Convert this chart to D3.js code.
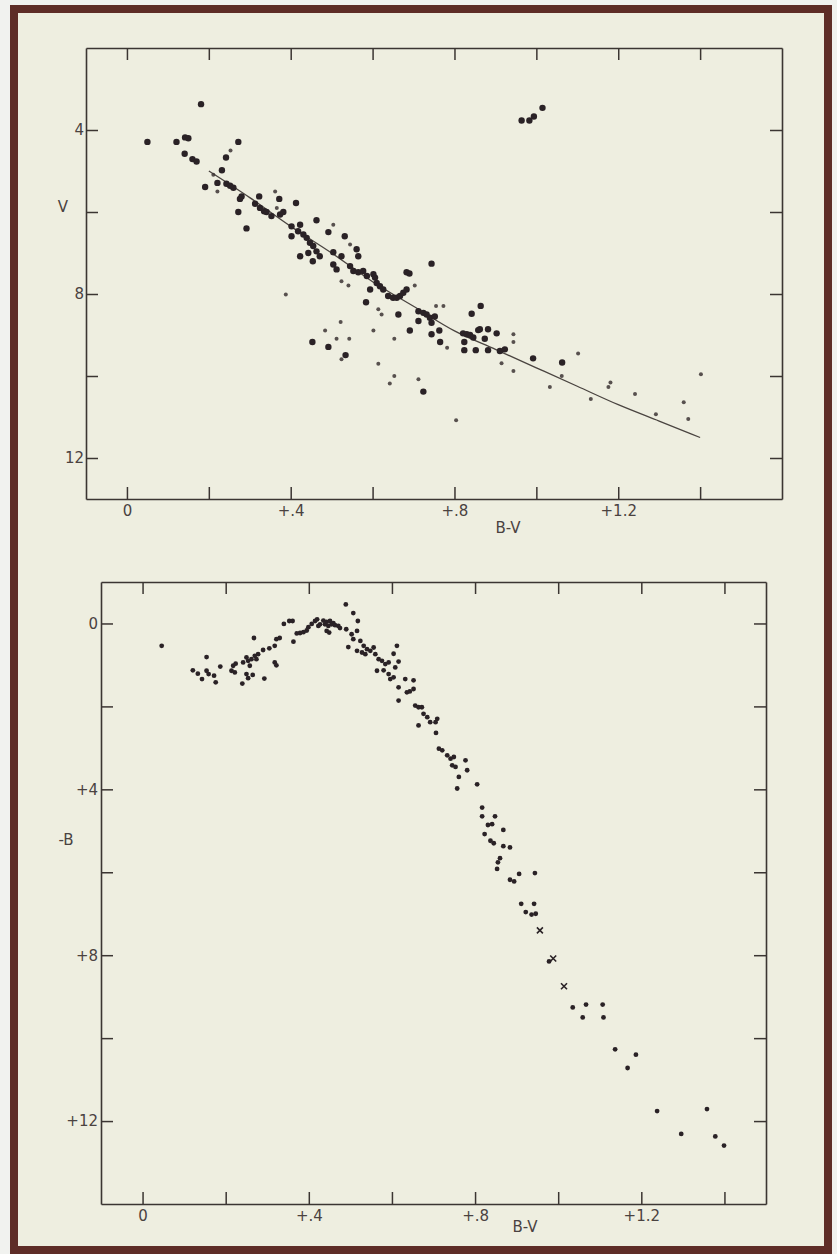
<!DOCTYPE html>
<html>
<head>
<meta charset="utf-8">
<script src="https://cdn.jsdelivr.net/npm/d3@7"></script>
<style>
  html, body { margin: 0; padding: 0; background: #f1f2ef; }
  svg { display: block; }
  text { font-family: "DejaVu Sans", "Liberation Sans", sans-serif; }
</style>
</head>
<body>
<svg id="chart" width="837" height="1254"></svg>
<script>
// ---------- DATA ----------
// Top panel: V vs B-V (large dots)
const topLargeBV = [0.181,0.05,0.121,0.142,0.150,0.141,0.160,0.170,0.272,0.242,0.232,0.191,0.221,0.243,0.252,0.260,0.280,0.276,0.272,0.292,
  0.323,0.313,0.325,0.335,0.341,0.372,0.353,0.374,0.382,0.413,0.402,0.423,0.418,0.431,0.439,0.447,0.455,0.402,0.463,0.423,
  0.454,0.443,0.463,0.471,0.492,0.532,0.565,0.504,0.524,0.512,0.504,0.545,0.553,0.565,0.577,0.586,0.602,0.606,0.683,0.690,
  0.744,0.610,0.618,0.626,0.594,0.638,0.650,0.659,0.667,0.675,0.683,0.584,0.663,0.712,0.724,0.732,0.740,0.752,0.712,0.744,
  0.453,0.492,0.534,0.691,0.724,0.744,0.763,0.765,0.842,0.864,0.821,0.830,0.838,0.846,0.858,0.862,0.874,0.882,0.903,0.824,
  0.824,0.852,0.882,0.911,0.923,0.992,1.063,0.964,0.983,0.994,1.015,0.561];
const topLargeV = [3.37,4.29,4.29,4.18,4.20,4.58,4.71,4.77,4.29,4.67,4.98,5.39,5.29,5.31,5.36,5.41,5.62,5.68,6.00,6.40,
  5.62,5.80,5.90,5.98,6.00,5.68,6.10,6.06,6.00,5.78,6.35,6.31,6.47,6.55,6.63,6.75,6.83,6.59,6.20,7.08,
  7.20,7.00,6.96,7.08,6.49,6.59,7.08,6.98,7.08,7.40,7.28,7.32,7.44,7.47,7.44,7.56,7.52,7.60,7.47,7.50,
  7.26,7.73,7.81,7.89,7.89,8.05,8.09,8.09,8.05,7.97,7.89,8.20,8.50,8.42,8.46,8.50,8.58,8.55,8.66,8.70,
  9.17,9.29,9.49,8.89,10.38,8.98,8.89,9.17,8.48,8.29,8.96,8.98,9.00,9.06,8.88,8.86,9.09,8.86,8.96,9.17,
  9.37,9.37,9.37,9.39,9.35,9.57,9.67,3.77,3.77,3.67,3.46,6.91];
// Top panel: small dots
const topSmallBV = [0.253,0.221,0.211,0.362,0.366,0.504,0.545,0.703,0.524,0.541,0.614,0.622,0.755,0.773,0.388,0.522,0.484,0.512,0.543,0.524,
  0.602,0.653,0.614,0.653,0.642,0.712,0.804,0.782,0.944,0.944,0.915,0.944,1.062,1.102,1.033,1.133,1.176,1.181,1.241,1.292,
  1.360,1.371,1.402];
const topSmallV = [4.50,5.50,5.09,5.50,5.90,6.31,6.79,7.79,7.69,7.79,8.37,8.50,8.29,8.29,8.01,8.68,8.89,9.09,9.09,9.59,
  8.89,9.09,9.70,10.00,10.18,10.08,11.08,9.31,8.98,9.17,9.69,9.88,10.00,9.45,10.27,10.56,10.27,10.16,10.44,10.93,
  10.64,11.05,9.96];
// Top panel: main-sequence line
const zamsBV = [0.2,0.3,0.4,0.5,0.6,0.7,0.8,0.9,1.0,1.1,1.2,1.3,1.4];
const zamsV  = [5.0,5.65,6.35,7.0,7.7,8.3,8.9,9.35,9.8,10.25,10.7,11.1,11.5];

// Bottom panel: -B vs B-V
const botBV = [0.046,0.121,0.133,0.143,0.154,0.154,0.159,0.172,0.176,0.187,
  0.214,0.222,0.218,0.224,0.240,0.242,0.250,0.254,0.262,0.270,0.274,0.278,0.268,0.250,0.254,0.265,0.258,0.293,
  0.290,0.305,0.318,0.322,0.330,0.318,0.322,0.340,0.353,0.361,0.363,0.371,0.379,0.387,0.395,0.399,
  0.407,0.415,0.420,0.427,0.435,0.439,0.443,0.447,0.451,0.455,0.459,0.463,0.471,0.449,0.443,0.423,0.475,
  0.489,0.507,0.518,0.490,0.503,0.516,0.507,0.524,0.495,0.516,0.532,0.540,0.548,0.528,0.536,0.556,0.560,
  0.568,0.576,0.584,0.592,0.564,0.580,0.592,0.604,0.596,0.608,0.604,0.612,0.616,
  0.616,0.616,0.632,0.636,0.652,0.652,0.643,
  0.656,0.664,0.672,0.676,0.685,0.692,0.705,0.709,0.664,0.706,
  0.713,0.721,0.733,0.741,0.749,0.745,0.753,0.761,0.757,0.777,0.781,0.805,
  0.817,0.817,0.848,0.831,0.841,0.868,0.823,0.837,0.845,0.868,0.884,0.860,0.855,0.853,
  0.884,0.894,0.906,0.944,0.911,0.922,0.942,0.936,0.946,0.978,
  1.035,1.067,1.107,1.059,1.109,1.137,1.187,1.167,1.238,1.296,1.358,1.378,1.399];
const botB = [0.54,1.13,1.21,1.34,1.14,0.81,1.22,1.26,1.42,1.04,
  1.14,1.18,1.02,0.97,1.45,0.94,0.82,0.90,0.86,0.78,0.86,0.74,0.35,1.22,1.32,1.24,1.02,1.33,
  0.64,0.60,0.54,0.38,0.35,0.94,1.01,0.01,-0.06,-0.06,0.44,0.24,0.23,0.21,0.17,0.09,
  0.01,-0.06,-0.10,0.02,-0.07,0.02,-0.04,0.06,-0.06,0.02,-0.01,0.04,0.06,0.22,0.18,0.06,0.11,
  -0.46,-0.25,-0.06,0.14,0.26,0.18,0.38,0.42,0.57,0.66,0.54,0.62,0.66,0.70,0.74,0.58,0.74,
  0.86,0.90,0.98,0.94,1.14,1.13,1.22,1.30,1.34,1.06,0.73,0.54,0.92,
  1.54,1.86,1.34,1.66,1.37,1.58,1.64,
  1.98,2.02,2.02,2.18,2.26,2.38,2.38,2.30,2.46,2.64,
  3.02,3.06,3.18,3.26,3.22,3.42,3.46,3.70,3.98,3.30,3.54,3.88,
  4.44,4.65,4.65,4.86,4.84,4.98,5.08,5.24,5.30,5.37,5.40,5.66,5.76,5.92,
  6.18,6.22,6.04,6.02,6.76,6.96,6.76,7.02,7.00,8.15,
  9.26,9.19,9.19,9.50,9.50,10.27,10.40,10.72,11.76,12.31,11.71,12.37,12.59];
// Bottom panel: cross markers
const botCrossBV = [0.956,0.988,1.014];
const botCrossB  = [7.40,8.08,8.75];

// Tick values & labels
const bvTicks = [0,0.2,0.4,0.6,0.8,1.0,1.2,1.4];
const bvLabels = {0:"0",0.4:"+.4",0.8:"+.8",1.2:"+1.2"};
const vTicks = [4,6,8,10,12];
const vLabels = {4:"4",8:"8",12:"12"};
const bTicks = [0,2,4,6,8,10,12];
const bLabels = {0:"0",4:"+4",8:"+8",12:"+12"};

// ---------- DRAW ----------
const svg = d3.select("#chart");
const inkAxis = "#3b3532";
const inkDot = "#2a2226";
const inkText = "#4a4240";

// frame
svg.append("rect").attr("x",14).attr("y",9).attr("width",814).attr("height",1241)
  .attr("fill","#eeeee0").attr("stroke","#5e2d27").attr("stroke-width",8);

function panel(opts){
  const {L,R,T,B,xd,yd,yTicks,yLab,yPad} = opts;
  const x = d3.scaleLinear().domain(xd).range([L,R]);
  const y = d3.scaleLinear().domain(yd).range([T,B]);
  const g = svg.append("g");
  const fmtX = d => bvLabels[d] !== undefined ? bvLabels[d] : "";
  const fmtY = d => yLab[d] !== undefined ? yLab[d] : "";
  const ax = [
    g.append("g").attr("transform",`translate(0,${B})`).call(d3.axisBottom(x).tickValues(bvTicks).tickSize(-12).tickSizeOuter(0).tickPadding(6).tickFormat(fmtX)),
    g.append("g").attr("transform",`translate(0,${T})`).call(d3.axisTop(x).tickValues(bvTicks).tickSize(-12).tickSizeOuter(0).tickFormat("")),
    g.append("g").attr("transform",`translate(${L},0)`).call(d3.axisLeft(y).tickValues(yTicks).tickSize(-12).tickSizeOuter(0).tickPadding(yPad).tickFormat(fmtY)),
    g.append("g").attr("transform",`translate(${R},0)`).call(d3.axisRight(y).tickValues(yTicks).tickSize(-12).tickSizeOuter(0).tickFormat(""))
  ];
  ax.forEach(a=>{
    a.select(".domain").attr("stroke",inkAxis).attr("stroke-width",1.6);
    a.selectAll(".tick line").attr("stroke",inkAxis).attr("stroke-width",1.5);
    a.selectAll(".tick text").attr("fill",inkText).attr("font-size",15);
  });
  return {x,y,g};
}

// Top panel
const P1 = panel({L:86,R:782,T:48,B:499,xd:[-0.1,1.6],yd:[2,13],yTicks:vTicks,yLab:vLabels,yPad:2});
P1.g.append("path")
  .datum(zamsBV.map((d,i)=>[d,zamsV[i]]))
  .attr("fill","none").attr("stroke","#4a4440").attr("stroke-width",1.3)
  .attr("d", d3.line().x(d=>P1.x(d[0])).y(d=>P1.y(d[1])).curve(d3.curveMonotoneX));
P1.g.selectAll("circle.s").data(topSmallBV.map((d,i)=>[d,topSmallV[i]])).join("circle")
  .attr("class","s").attr("cx",d=>P1.x(d[0])).attr("cy",d=>P1.y(d[1])).attr("r",2)
  .attr("fill","#3c3434").attr("opacity",0.85);
P1.g.selectAll("circle.l").data(topLargeBV.map((d,i)=>[d,topLargeV[i]])).join("circle")
  .attr("class","l").attr("cx",d=>P1.x(d[0])).attr("cy",d=>P1.y(d[1])).attr("r",3.2)
  .attr("fill",inkDot);
P1.g.append("text").attr("x",63).attr("y",212).attr("text-anchor","middle")
  .attr("font-size",15).attr("fill",inkText).text("V");
P1.g.append("text").attr("x",508).attr("y",533).attr("text-anchor","middle")
  .attr("font-size",15).attr("fill",inkText).text("B-V");

// Bottom panel
const P2 = panel({L:101,R:766,T:582,B:1204,xd:[-0.1,1.5],yd:[-1,14],yTicks:bTicks,yLab:bLabels,yPad:3});
P2.g.selectAll("circle.b").data(botBV.map((d,i)=>[d,botB[i]])).join("circle")
  .attr("class","b").attr("cx",d=>P2.x(d[0])).attr("cy",d=>P2.y(d[1])).attr("r",2.4)
  .attr("fill",inkDot);
const crossG = P2.g.selectAll("g.x").data(botCrossBV.map((d,i)=>[d,botCrossB[i]])).join("g")
  .attr("class","x").attr("transform",d=>`translate(${P2.x(d[0])},${P2.y(d[1])})`);
crossG.append("path").attr("d","M-3,-3L3,3M-3,3L3,-3").attr("stroke",inkDot).attr("stroke-width",1.6);
P2.g.append("text").attr("x",66).attr("y",845).attr("text-anchor","middle")
  .attr("font-size",15).attr("fill",inkText).text("-B");
P2.g.append("text").attr("x",525).attr("y",1232).attr("text-anchor","middle")
  .attr("font-size",15).attr("fill",inkText).text("B-V");
</script>
</body>
</html>
